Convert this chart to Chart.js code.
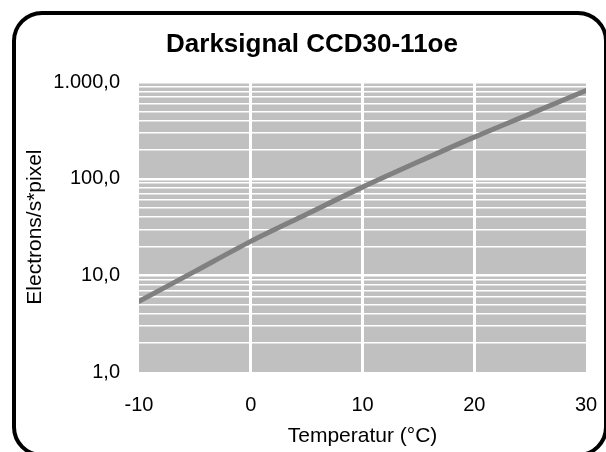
<!DOCTYPE html>
<html>
<head>
<meta charset="utf-8">
<script src="https://cdn.jsdelivr.net/npm/chart.js@4"></script>
<style>
  html, body { margin: 0; padding: 0; background: #fff; overflow: hidden; }
  #wrap { position: relative; width: 606px; height: 452px; }
  #frame {
    position: absolute; left: 12px; top: 11px; width: 596px; height: 446px;
    box-sizing: border-box; border: 4.5px solid #000; border-radius: 30px;
    pointer-events: none;
  }
  canvas { position: absolute; left: 0; top: 0; }
</style>
</head>
<body>
<div id="wrap">
  <canvas id="chart" width="606" height="452"></canvas>
  <div id="frame"></div>
</div>
<script>
// Data
const temps = [-10, -5, 0, 5, 10, 15, 20, 25, 30];
const signal = [5.4, 11, 22.5, 43, 82, 150, 270, 470, 820];

// Axis ticks
const xTicks = [-10, 0, 10, 20, 30];
const yDecades = [1, 10, 100, 1000];
const yTickLabels = ["1,0", "10,0", "100,0", "1.000,0"];
const yMinorSteps = [1, 2, 3, 4, 5, 6, 7, 8, 9];

const font = "'Liberation Sans', Arial, sans-serif";

// grey plot background
const plotBackground = {
  id: "plotBackground",
  beforeDraw(chart) {
    const { ctx, chartArea: a } = chart;
    ctx.save();
    ctx.fillStyle = "#c0c0c0";
    ctx.fillRect(a.left, a.top, a.right - a.left, a.bottom - a.top);
    ctx.restore();
  },
};

new Chart(document.getElementById("chart"), {
  type: "line",
  data: {
    datasets: [
      {
        data: temps.map((t, i) => ({ x: t, y: signal[i] })),
        borderColor: "#808080",
        borderWidth: 5,
        borderCapStyle: "round",
        pointRadius: 0,
        tension: 0.3,
        fill: false,
      },
    ],
  },
  options: {
    responsive: false,
    animation: false,
    layout: { padding: { left: 26, right: 8, top: 0, bottom: 0 } },
    plugins: {
      legend: { display: false },
      tooltip: { enabled: false },
      title: {
        display: true,
        text: "Darksignal CCD30-11oe",
        color: "#000",
        font: { family: font, size: 26, weight: "bold" },
        padding: { top: 29, bottom: 22 },
      },
    },
    scales: {
      x: {
        type: "linear",
        min: -10,
        max: 30,
        afterBuildTicks: (scale) => {
          scale.ticks = xTicks.map((v) => ({ value: v }));
        },
        afterFit: (scale) => {
          scale.height = 80;
          scale.paddingLeft = 0;
          scale.paddingRight = 20;
        },
        border: { display: false },
        grid: {
          drawTicks: false,
          lineWidth: 3,
          color: (c) =>
            c.tick && (c.tick.value === -10 || c.tick.value === 30)
              ? "rgba(0,0,0,0)"
              : "#ffffff",
        },
        ticks: {
          color: "#000",
          padding: 21,
          font: { family: font, size: 20 },
          maxRotation: 0,
        },
        title: {
          display: true,
          text: "Temperatur (°C)",
          color: "#000",
          font: { family: font, size: 21 },
          padding: { top: 0, bottom: 3.4 },
        },
      },
      y: {
        type: "logarithmic",
        min: 1,
        max: 1000,
        afterBuildTicks: (scale) => {
          const ticks = [];
          yDecades.forEach((d) => {
            if (d === 1000) {
              ticks.push({ value: d });
              return;
            }
            yMinorSteps.forEach((s) => ticks.push({ value: d * s }));
          });
          scale.ticks = ticks;
        },
        afterFit: (scale) => {
          scale.width = 113;
        },
        border: { display: false },
        grid: {
          drawTicks: false,
          lineWidth: (c) =>
            c.tick && yDecades.includes(c.tick.value) ? 2.5 : 1.5,
          color: (c) =>
            c.tick && c.tick.value === 1 ? "rgba(0,0,0,0)" : "#ffffff",
        },
        ticks: {
          autoSkip: false,
          color: "#000",
          padding: 19,
          font: { family: font, size: 20 },
          callback: (value) => {
            const i = yDecades.indexOf(value);
            return i >= 0 ? yTickLabels[i] : "";
          },
        },
        title: {
          display: true,
          text: "Electrons/s*pixel",
          color: "#000",
          font: { family: font, size: 21 },
          padding: { top: -3.6, bottom: 0 },
        },
      },
    },
  },
  plugins: [plotBackground],
});
</script>
</body>
</html>
